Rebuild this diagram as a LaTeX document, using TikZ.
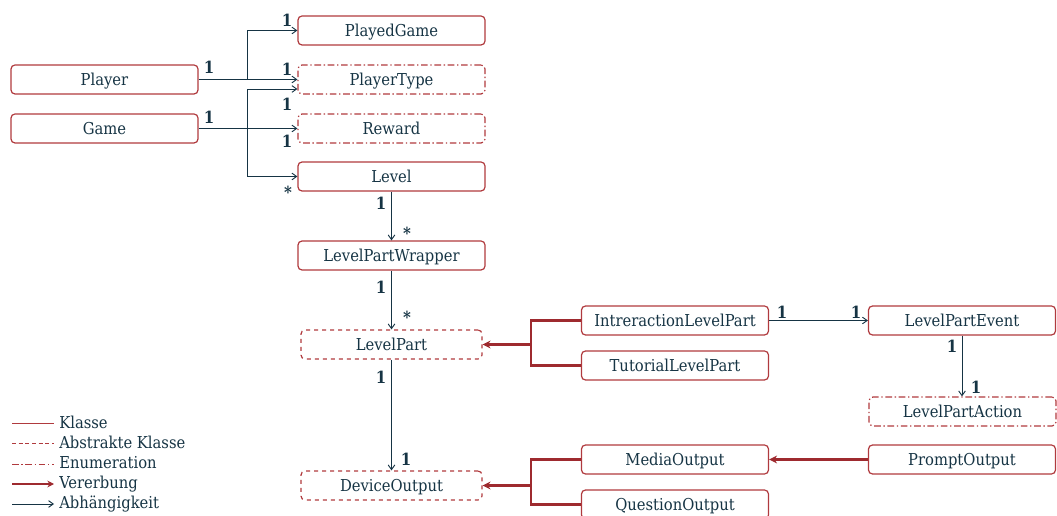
\documentclass[tikz,border=0pt]{standalone}
\usepackage{fontspec}
\setmainfont{DejaVu Serif Condensed}
\usetikzlibrary{arrows.meta,calc}
\definecolor{boxred}{HTML}{B03A3E}
\definecolor{inkblue}{HTML}{163444}
\definecolor{inhred}{HTML}{9E2A2F}
\tikzset{
  cls/.style={draw=boxred, line width=0.9pt, rounded corners=3pt, minimum width=140.25pt, minimum height=21.75pt, inner sep=0pt, text height=9.6pt, text depth=0pt, text=inkblue, font=\fontsize{12.3}{14}\selectfont},
  abs/.style={cls, dashed, minimum width=135.75pt},
  enum/.style={cls, dash pattern=on 5pt off 2pt on 1pt off 2pt},
  dep/.style={draw=inkblue, line width=0.7pt, -{Straight Barb[length=3.5pt,width=5pt]}},
  inh/.style={draw=inhred, line width=1.8pt, -{Stealth[length=6pt,width=6pt]}},
  inhl/.style={draw=inhred, line width=1.8pt},
  mult/.style={text=inkblue, font=\bfseries\fontsize{12.5}{14}\selectfont, inner sep=0pt},
  leg/.style={text=inkblue, font=\fontsize{12.3}{14}\selectfont, anchor=base west, inner sep=0pt}
}
\begin{document}
\begin{tikzpicture}[x=0.75pt,y=-0.75pt]
\useasboundingbox (0,0) rectangle (1057,516);
% nodes
\node[cls] (PlayedGame) at (391.5,30.5) {PlayedGame};
\node[cls] (Player) at (104.5,79.5) {Player};
\node[enum] (PlayerType) at (391.5,79.5) {PlayerType};
\node[cls] (Game) at (104.5,128.5) {Game};
\node[enum] (Reward) at (391.5,128.5) {Reward};
\node[cls] (Level) at (391.5,176.5) {Level};
\node[cls] (LPW) at (391.5,255.5) {LevelPartWrapper};
\node[abs] (LevelPart) at (391.5,344.5) {LevelPart};
\node[cls] (ILP) at (675,320.5) {IntreractionLevelPart};
\node[cls] (TLP) at (675,365.5) {TutorialLevelPart};
\node[cls] (LPE) at (962,320.5) {LevelPartEvent};
\node[enum] (LPA) at (962.5,411.5) {LevelPartAction};
\node[cls] (MO) at (675,459.5) {MediaOutput};
\node[cls] (PO) at (962,459.5) {PromptOutput};
\node[abs] (DO) at (391.5,485.5) {DeviceOutput};
\node[cls] (QO) at (675,504.5) {QuestionOutput};
% dependency connectors
\coordinate (j1) at (247,79.5);
\coordinate (j2) at (247,128.5);
\coordinate (ptin) at ($(PlayerType.west)+(0,9.5)$);
\draw[dep] (Player.east) -- (PlayerType.west);
\draw[dep] (j1) |- (PlayedGame.west);
\draw[dep] (Game.east) -- (Reward.west);
\draw[dep] (j2) |- (ptin);
\draw[dep] (j2) |- (Level.west);
\draw[dep] (Level.south) -- (LPW.north);
\draw[dep] (LPW.south) -- (LevelPart.north);
\draw[dep] (LevelPart.south) -- (DO.north);
\draw[dep] (ILP.east) -- (LPE.west);
\draw[dep] (LPE.south) -- (LPA.north -| LPE.south);
% inheritance
\coordinate (k1) at (531,344.5);
\coordinate (k2) at (531,485.5);
\draw[inhl] (ILP.west) -| (k1) |- (TLP.west);
\draw[inh] (k1) -- (LevelPart.east);
\draw[inhl] (MO.west) -| (k2) |- (QO.west);
\draw[inh] (k2) -- (DO.east);
\draw[inh] (PO.west) -- (MO.east);
% multiplicities
\node[mult] (m1) at (209,67) {1};
\node[mult] (m2) at (287,20) {1};
\node[mult] (m3) at (287,69) {1};
\node[mult] (m4) at (287,104) {1};
\node[mult] (m5) at (209,117) {1};
\node[mult] (m6) at (287,141) {1};
\node[mult] (m7) at (288,192) {*};
\node[mult] (m8) at (381,203) {1};
\node[mult] (m9) at (407,233) {*};
\node[mult] (m10) at (381,287) {1};
\node[mult] (m11) at (407,317) {*};
\node[mult] (m12) at (381,377) {1};
\node[mult] (m13) at (406,459) {1};
\node[mult] (m14) at (782,312) {1};
\node[mult] (m15) at (856,312) {1};
\node[mult] (m16) at (952,346) {1};
\node[mult] (m17) at (976,387) {1};
% legend
\coordinate (l1a) at (12,423); \coordinate (l1b) at (54,423);
\coordinate (l2a) at (12,443); \coordinate (l2b) at (54,443);
\coordinate (l3a) at (12,464); \coordinate (l3b) at (54,464);
\coordinate (l4a) at (12,484); \coordinate (l4b) at (54,484);
\coordinate (l5a) at (12,504); \coordinate (l5b) at (54,504);
\draw[draw=boxred, line width=0.7pt] (l1a) -- (l1b);
\draw[draw=boxred, line width=0.7pt, dash pattern=on 3pt off 2pt] (l2a) -- (l2b);
\draw[draw=boxred, line width=0.7pt, dash pattern=on 5pt off 2pt on 1pt off 2pt] (l3a) -- (l3b);
\draw[inhred, line width=1.6pt, -{Stealth[length=5pt,width=5pt]}] (l4a) -- (l4b);
\draw[dep] (l5a) -- (l5b);
\node[leg] (t1) at (59,428.7) {Klasse};
\node[leg] (t2) at (59,448.7) {Abstrakte Klasse};
\node[leg] (t3) at (59,468.7) {Enumeration};
\node[leg] (t4) at (59,488.5) {Vererbung};
\node[leg] (t5) at (59,508.7) {Abhängigkeit};
\end{tikzpicture}
\end{document}
